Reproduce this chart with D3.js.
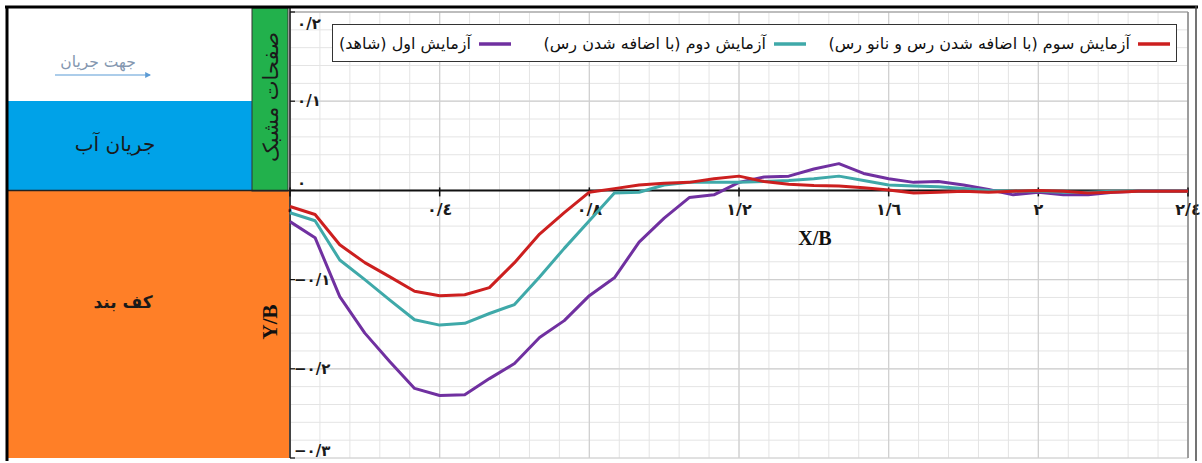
<!DOCTYPE html>
<html>
<head>
<meta charset="utf-8">
<script src="https://cdn.jsdelivr.net/npm/d3@7"></script>
<style>
  body { margin: 0; background: #fff; }
  text { font-family: "DejaVu Sans", sans-serif; }
</style>
</head>
<body>
<div id="chart"></div>
<script>
// x/B measurement stations
var xB = [0, 0.067, 0.133, 0.2, 0.267, 0.333, 0.4, 0.467, 0.533, 0.6, 0.667, 0.733,
    0.8, 0.867, 0.933, 1.0, 1.067, 1.133, 1.2, 1.267, 1.333, 1.4, 1.467, 1.533,
    1.6, 1.667, 1.733, 1.8, 1.867, 1.933, 2.0, 2.067, 2.133, 2.2, 2.267, 2.333, 2.4];

// y/B values per test
var test1 = [-0.035, -0.053, -0.119, -0.160, -0.192, -0.222, -0.230, -0.229, -0.211, -0.194,
    -0.165, -0.146, -0.118, -0.098, -0.058, -0.031, -0.008, -0.005, 0.009, 0.015, 0.016,
    0.024, 0.030, 0.019, 0.013, 0.009, 0.010, 0.006, 0.001, -0.005, -0.002, -0.005, -0.005,
    -0.002, -0.001, -0.001, -0.001];
var test2 = [-0.025, -0.034, -0.078, -0.100, -0.123, -0.145, -0.151, -0.149, -0.138, -0.128,
    -0.097, -0.065, -0.034, -0.003, -0.002, 0.006, 0.009, 0.009, 0.009, 0.010, 0.011,
    0.013, 0.016, 0.011, 0.006, 0.005, 0.004, 0.002, 0.000, -0.001, -0.001, -0.002, -0.002,
    -0.001, -0.001, -0.001, -0.001];
var test3 = [-0.018, -0.027, -0.061, -0.081, -0.097, -0.113, -0.118, -0.117, -0.109, -0.081,
    -0.049, -0.025, -0.002, 0.002, 0.006, 0.008, 0.009, 0.013, 0.016, 0.010, 0.007,
    0.0055, 0.005, 0.003, 0.0005, -0.003, -0.002, -0.001, -0.002, -0.001, 0, -0.001, -0.003,
    -0.002, -0.001, -0.001, -0.001];

var seriesNames = ['آزمایش سوم (با اضافه شدن رس و نانو رس)', 'آزمایش دوم (با اضافه شدن رس)', 'آزمایش اول (شاهد)'];
var xTicks = [0, 0.4, 0.8, 1.2, 1.6, 2.0, 2.4];
var xTickLabels = ['٠', '٠/٤', '٠/٨', '١/٢', '١/٦', '٢', '٢/٤'];
var yTicks = [0.2, 0.1, 0, -0.1, -0.2, -0.3];
var yTickLabels = ['٠/٢', '٠/١', '٠', '−٠/١', '−٠/٢', '−٠/٣'];

var chart_width = 1202;
var chart_height = 463;
var svg = d3.select('#chart')
    .append('svg')
    .attr('width', chart_width)
    .attr('height', chart_height);

// scales
var x_scale = d3.scaleLinear().domain([0, 2.4]).range([290, 1188]);
var y_scale = d3.scaleLinear().domain([-0.3, 0.2]).range([458, 12]);

// left side picture: flow above, apron below
svg.append('rect').attr('x', 8).attr('y', 101).attr('width', 244).attr('height', 90).attr('fill', '#00a2e8');
svg.append('rect').attr('x', 8).attr('y', 191).attr('width', 281).attr('height', 267).attr('fill', '#ff7f27');
svg.append('rect').attr('x', 252).attr('y', 8).attr('width', 36).attr('height', 183)
    .attr('fill', '#22b14c').attr('stroke', '#333').attr('stroke-width', 1);
svg.append('line').attr('x1', 8).attr('x2', 290).attr('y1', 190.5).attr('y2', 190.5)
    .attr('stroke', '#222').attr('stroke-width', 1.5);

svg.append('text').text('جهت جریان')
    .attr('x', 98).attr('y', 67)
    .attr('direction', 'rtl').attr('text-anchor', 'middle')
    .attr('font-size', 15.5).attr('fill', '#8497b0');

svg.append('defs').append('marker')
    .attr('id', 'arrow').attr('viewBox', '0 0 10 10')
    .attr('refX', 8).attr('refY', 5)
    .attr('markerWidth', 5).attr('markerHeight', 5)
    .attr('orient', 'auto')
    .append('path').attr('d', 'M0,0 L10,5 L0,10 z').attr('fill', '#5b9bd5');
svg.append('line').attr('x1', 55).attr('x2', 150).attr('y1', 75).attr('y2', 75)
    .attr('stroke', '#5b9bd5').attr('stroke-width', 1.2).attr('marker-end', 'url(#arrow)');

svg.append('text').text('جریان آب')
    .attr('x', 115).attr('y', 151)
    .attr('direction', 'rtl').attr('text-anchor', 'middle')
    .attr('font-size', 20).attr('fill', '#1a1a1a');

svg.append('text').text('کف بند')
    .attr('x', 123).attr('y', 308)
    .attr('direction', 'rtl').attr('text-anchor', 'middle')
    .attr('font-size', 17).attr('font-weight', 'bold').attr('fill', '#1a1a1a');

svg.append('text').text('صفحات مشبک')
    .attr('transform', 'translate(278,97) rotate(-90)')
    .attr('direction', 'rtl').attr('text-anchor', 'middle')
    .attr('font-size', 21).attr('fill', '#1a1a1a');

svg.append('text').text('Y/B')
    .attr('transform', 'translate(277,322) rotate(-90)')
    .attr('text-anchor', 'middle')
    .style('font-family', '"Liberation Serif", serif')
    .attr('font-weight', 'bold').attr('font-size', 21).attr('fill', '#111');

// grid
var g = svg.append('g');
g.selectAll('.vminor')
    .data(d3.range(0, 2.4001, 0.08))
    .enter()
    .append('line')
    .attr('x1', function (d) { return x_scale(d); })
    .attr('x2', function (d) { return x_scale(d); })
    .attr('y1', y_scale(0.2)).attr('y2', y_scale(-0.3))
    .attr('stroke', '#e4e4e4').attr('stroke-width', 1);
g.selectAll('.hminor')
    .data(d3.range(-0.3, 0.2001, 0.02))
    .enter()
    .append('line')
    .attr('x1', x_scale(0)).attr('x2', x_scale(2.4))
    .attr('y1', function (d) { return y_scale(d); })
    .attr('y2', function (d) { return y_scale(d); })
    .attr('stroke', '#e4e4e4').attr('stroke-width', 1);
g.selectAll('.vmajor')
    .data(xTicks)
    .enter()
    .append('line')
    .attr('x1', function (d) { return x_scale(d); })
    .attr('x2', function (d) { return x_scale(d); })
    .attr('y1', y_scale(0.2)).attr('y2', y_scale(-0.3))
    .attr('stroke', '#cfcfcf').attr('stroke-width', 1.2);
g.selectAll('.hmajor')
    .data(yTicks)
    .enter()
    .append('line')
    .attr('x1', x_scale(0)).attr('x2', x_scale(2.4))
    .attr('y1', function (d) { return y_scale(d); })
    .attr('y2', function (d) { return y_scale(d); })
    .attr('stroke', '#cfcfcf').attr('stroke-width', 1.2);

// plot frame
svg.append('line').attr('x1', 290).attr('x2', 1188).attr('y1', 12).attr('y2', 12).attr('stroke', '#999');
svg.append('line').attr('x1', 1188).attr('x2', 1188).attr('y1', 12).attr('y2', 458).attr('stroke', '#888').attr('stroke-width', 1.5);

// axes
svg.append('line')
    .attr('x1', x_scale(0)).attr('x2', x_scale(2.4))
    .attr('y1', y_scale(0)).attr('y2', y_scale(0))
    .attr('stroke', '#111').attr('stroke-width', 2);
svg.append('line')
    .attr('x1', x_scale(0)).attr('x2', x_scale(0))
    .attr('y1', 8).attr('y2', 458)
    .attr('stroke', '#111').attr('stroke-width', 1.5);

svg.selectAll('.xtick')
    .data(xTicks)
    .enter()
    .append('line')
    .attr('x1', function (d) { return x_scale(d); })
    .attr('x2', function (d) { return x_scale(d); })
    .attr('y1', y_scale(0) - 3).attr('y2', y_scale(0) + 6)
    .attr('stroke', '#111').attr('stroke-width', 1.5);

svg.selectAll('.ytick')
    .data(yTicks)
    .enter()
    .append('line')
    .attr('x1', x_scale(0)).attr('x2', x_scale(0) + 5)
    .attr('y1', function (d) { return y_scale(d); })
    .attr('y2', function (d) { return y_scale(d); })
    .attr('stroke', '#111').attr('stroke-width', 1.2);

svg.selectAll('.xlabel')
    .data(xTicks)
    .enter()
    .append('text')
    .text(function (d, i) { return xTickLabels[i]; })
    .attr('x', function (d) { return x_scale(d); })
    .attr('y', y_scale(0) + 25)
    .attr('text-anchor', 'middle')
    .attr('font-size', 16).attr('font-weight', 'bold').attr('fill', '#1a1a1a');

svg.selectAll('.ylabel')
    .data(yTicks)
    .enter()
    .append('text')
    .text(function (d, i) { return yTickLabels[i]; })
    .attr('x', function (d) { return d < 0 ? 294 : 297; })
    .attr('y', function (d) {
        var y = Math.max(24, Math.min(451, y_scale(d)));
        if (d === 0) y -= 7;
        return y + 5;
    })
    .attr('font-size', 15).attr('font-weight', 'bold').attr('fill', '#1a1a1a');

svg.append('text').text('X/B')
    .attr('x', 815).attr('y', 245)
    .attr('text-anchor', 'middle')
    .style('font-family', '"Liberation Serif", serif')
    .attr('font-weight', 'bold').attr('font-size', 20).attr('fill', '#111');

// lines
var series = [
    { values: test1, color: '#7030a0' },
    { values: test2, color: '#3fa9a9' },
    { values: test3, color: '#cc1f1f' }
];
var line = d3.line()
    .x(function (d, i) { return x_scale(xB[i]); })
    .y(function (d) { return y_scale(d); });
svg.selectAll('.series')
    .data(series)
    .enter()
    .append('path')
    .attr('d', function (d) { return line(d.values); })
    .attr('fill', 'none')
    .attr('stroke', function (d) { return d.color; })
    .attr('stroke-width', 3)
    .attr('stroke-linejoin', 'round');

// legend
svg.append('rect').attr('x', 332.5).attr('y', 24.5).attr('width', 844).attr('height', 37)
    .attr('fill', '#fff').attr('stroke', '#333').attr('stroke-width', 1);
var legendItems = [
    { name: seriesNames[0], color: '#cc1f1f', x: 1170 },
    { name: seriesNames[1], color: '#3fa9a9', x: 806 },
    { name: seriesNames[2], color: '#7030a0', x: 511 }
];
var lg = svg.selectAll('.legend')
    .data(legendItems)
    .enter()
    .append('g');
lg.append('line')
    .attr('x1', function (d) { return d.x - 32; })
    .attr('x2', function (d) { return d.x; })
    .attr('y1', 44).attr('y2', 44)
    .attr('stroke', function (d) { return d.color; })
    .attr('stroke-width', 3.5);
lg.append('text')
    .text(function (d) { return d.name; })
    .attr('x', function (d) { return d.x - 40; })
    .attr('y', 49)
    .attr('direction', 'rtl')
    .attr('text-anchor', 'start')
    .attr('font-size', 16).attr('fill', '#111');

// outer frame
svg.append('line').attr('x1', 5).attr('x2', 1198).attr('y1', 7).attr('y2', 7).attr('stroke', '#000').attr('stroke-width', 3);
svg.append('line').attr('x1', 7).attr('x2', 7).attr('y1', 6).attr('y2', 461).attr('stroke', '#000').attr('stroke-width', 3);
svg.append('line').attr('x1', 1196).attr('x2', 1196).attr('y1', 6).attr('y2', 461).attr('stroke', '#444').attr('stroke-width', 1.5);
</script>
</body>
</html>
